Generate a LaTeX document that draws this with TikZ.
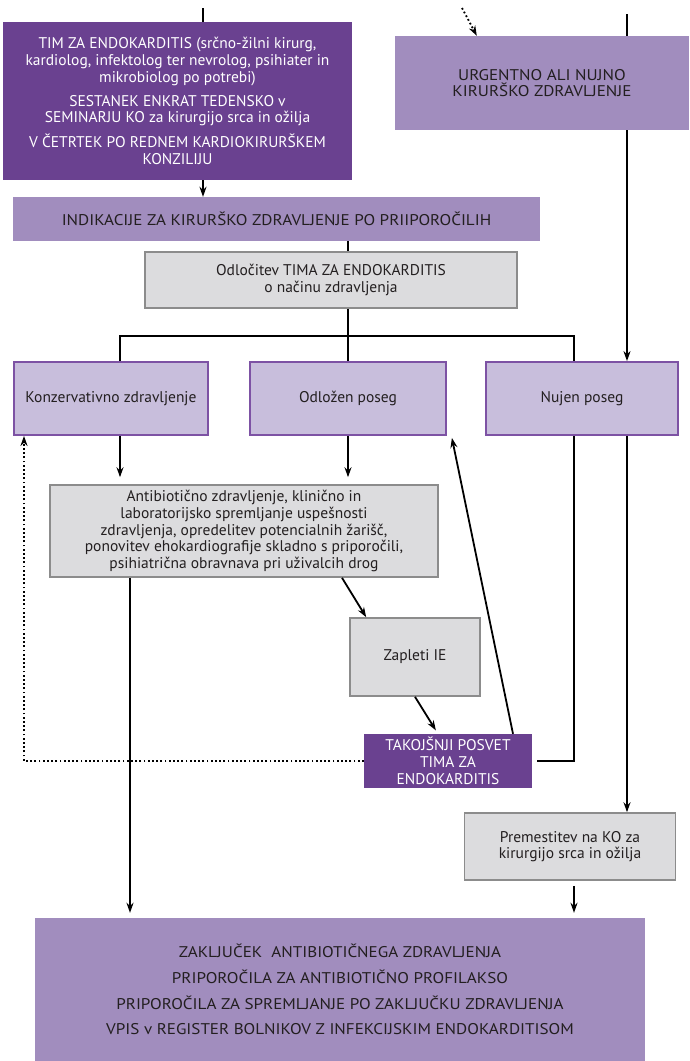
\documentclass[tikz,border=0pt]{standalone}
\usepackage{fontspec}
\setmainfont{PT Sans}
\newfontfamily\velike{PT Sans}[FakeStretch=1.1]
\usetikzlibrary{arrows.meta}
\definecolor{temna}{HTML}{6A4190}
\definecolor{srednja}{HTML}{A18DBE}
\definecolor{svetla}{HTML}{C8BEDC}
\definecolor{robvij}{HTML}{7D52A4}
\definecolor{siva}{HTML}{DCDCDE}
\definecolor{robsiv}{HTML}{8C8C8C}
\definecolor{besedilo}{HTML}{231F20}

\begin{document}
\begin{tikzpicture}[x=1pt,y=-1pt,
  box/.style={inner sep=2pt,align=center,text=besedilo,
    font=\fontsize{15.5}{16.7}\selectfont},
  tim/.style={box,fill=temna,text=white},
  vodilo/.style={box,fill=srednja,font=\velike\fontsize{15.5}{16.7}\selectfont},
  izbira/.style={box,fill=svetla,draw=robvij,line width=1.8pt},
  korak/.style={box,fill=siva,draw=robsiv,line width=1.6pt},
  pot/.style={line width=1.8pt,black},
  arr/.style={pot,-{Stealth[length=10pt,width=7pt]}},
  pike/.style={pot,dash pattern=on 1.8pt off 2.4pt}]
\useasboundingbox (0,0) rectangle (689,1061);

\node[tim,minimum width=349pt,minimum height=158pt] (tim) at (177.5,101)
  {TIM ZA ENDOKARDITIS (srčno-žilni kirurg,\\
   kardiolog, infektolog ter nevrolog, psihiater in\\
   mikrobiolog po potrebi)\\[7pt]
   SESTANEK ENKRAT TEDENSKO v\\
   SEMINARJU KO za kirurgijo srca in ožilja\\[7pt]
   V ČETRTEK PO REDNEM KARDIOKIRURŠKEM\\
   KONZILIJU};
\node[vodilo,minimum width=294pt,minimum height=94pt] (urg) at (542,83)
  {URGENTNO ALI NUJNO\\KIRURŠKO ZDRAVLJENJE};
\node[vodilo,minimum width=527pt,minimum height=44pt] (ind) at (276.5,219)
  {INDIKACIJE ZA KIRURŠKO ZDRAVLJENJE PO PRIIPOROČILIH};
\node[korak,minimum width=372pt,minimum height=56pt] (odl) at (331,280)
  {Odločitev TIMA ZA ENDOKARDITIS\\o načinu zdravljenja};
\node[izbira,minimum width=194pt,minimum height=73pt] (kon) at (111,398.5)
  {Konzervativno zdravljenje};
\node[izbira,minimum width=196pt,minimum height=73pt] (pos) at (348,398.5)
  {Odložen poseg};
\node[izbira,minimum width=192pt,minimum height=73pt] (nuj) at (582,398.5)
  {Nujen poseg};
\node[korak,minimum width=388pt,minimum height=92pt] (ant) at (244,531)
  {Antibiotično zdravljenje, klinično in\\
   laboratorijsko spremljanje uspešnosti\\
   zdravljenja, opredelitev potencialnih žarišč,\\
   ponovitev ehokardiografije skladno s priporočili,\\
   psihiatrična obravnava pri uživalcih drog};
\node[korak,minimum width=130pt,minimum height=78pt] (zap) at (415,657)
  {Zapleti IE};
\node[tim,minimum width=168pt,minimum height=54pt] (tak) at (448,761)
  {TAKOJŠNJI POSVET\\TIMA ZA\\ENDOKARDITIS};
\node[korak,minimum width=211pt,minimum height=67pt] (pre) at (570,846.5)
  {Premestitev na KO za\\kirurgijo srca in ožilja};
\node[vodilo,minimum width=610pt,minimum height=143pt] (zak) at (340,989.5)
  {ZAKLJUČEK\ \ ANTIBIOTIČNEGA ZDRAVLJENJA\\[9pt]
   PRIPOROČILA ZA ANTIBIOTIČNO PROFILAKSO\\[9pt]
   PRIPOROČILA ZA SPREMLJANJE PO ZAKLJUČKU ZDRAVLJENJA\\[9pt]
   VPIS v REGISTER BOLNIKOV Z INFEKCIJSKIM ENDOKARDITISOM};

\coordinate (ttop) at (203,8);
\coordinate (dtop) at (462,8);
\coordinate (utop) at (627,14);
\coordinate (k) at (120,336);
\coordinate (n) at (574,336);
\coordinate (lft) at (130,0);
\coordinate (d) at (24,0);

\draw[pot] (ttop) -- (ttop |- tim.north);
\draw[arr] (tim.south -| ttop) -- (ind.north -| ttop);
\draw[pike,-{Stealth[length=10pt,width=7pt]}] (dtop) -- ([xshift=82pt]urg.north west);
\draw[pot] (utop) -- (urg.north -| utop);
\draw[arr] (urg.south -| utop) -- (nuj.north -| utop);
\draw[pot] (ind.south -| pos) -- (odl.north -| pos);
\draw[pot] (odl.south -| pos) -- (pos.north);
\draw[pot] (kon.north -| k) -- (k) -- (n) -- (nuj.north -| n);
\draw[arr,shorten >=7pt] (kon.south -| k) -- (ant.north -| k);
\draw[arr,shorten >=7pt] (pos.south) -- (ant.north -| pos);
\draw[arr,shorten >=5pt] (ant.south -| lft) -- (zak.north -| lft);
\draw[arr] ([xshift=98pt]ant.south) -- ([xshift=17pt]zap.north west);
\draw[arr,shorten >=4pt] (zap.south) -- ([xshift=-10pt]tak.north);
\draw[arr] ([xshift=65pt]tak.north) -- ([xshift=5pt,yshift=-2pt]pos.south east);
\draw[pike,-{Stealth[length=10pt,width=7pt]}] (tak.west) -| (kon.south -| d);
\draw[pot] ([xshift=5pt]tak.east) -| (nuj.south -| n);
\draw[arr] (nuj.south -| utop) -- (pre.north -| utop);
\draw[arr,shorten <=5pt,shorten >=5pt] (pre.south -| n) -- (zak.north -| n);
\end{tikzpicture}
\end{document}
